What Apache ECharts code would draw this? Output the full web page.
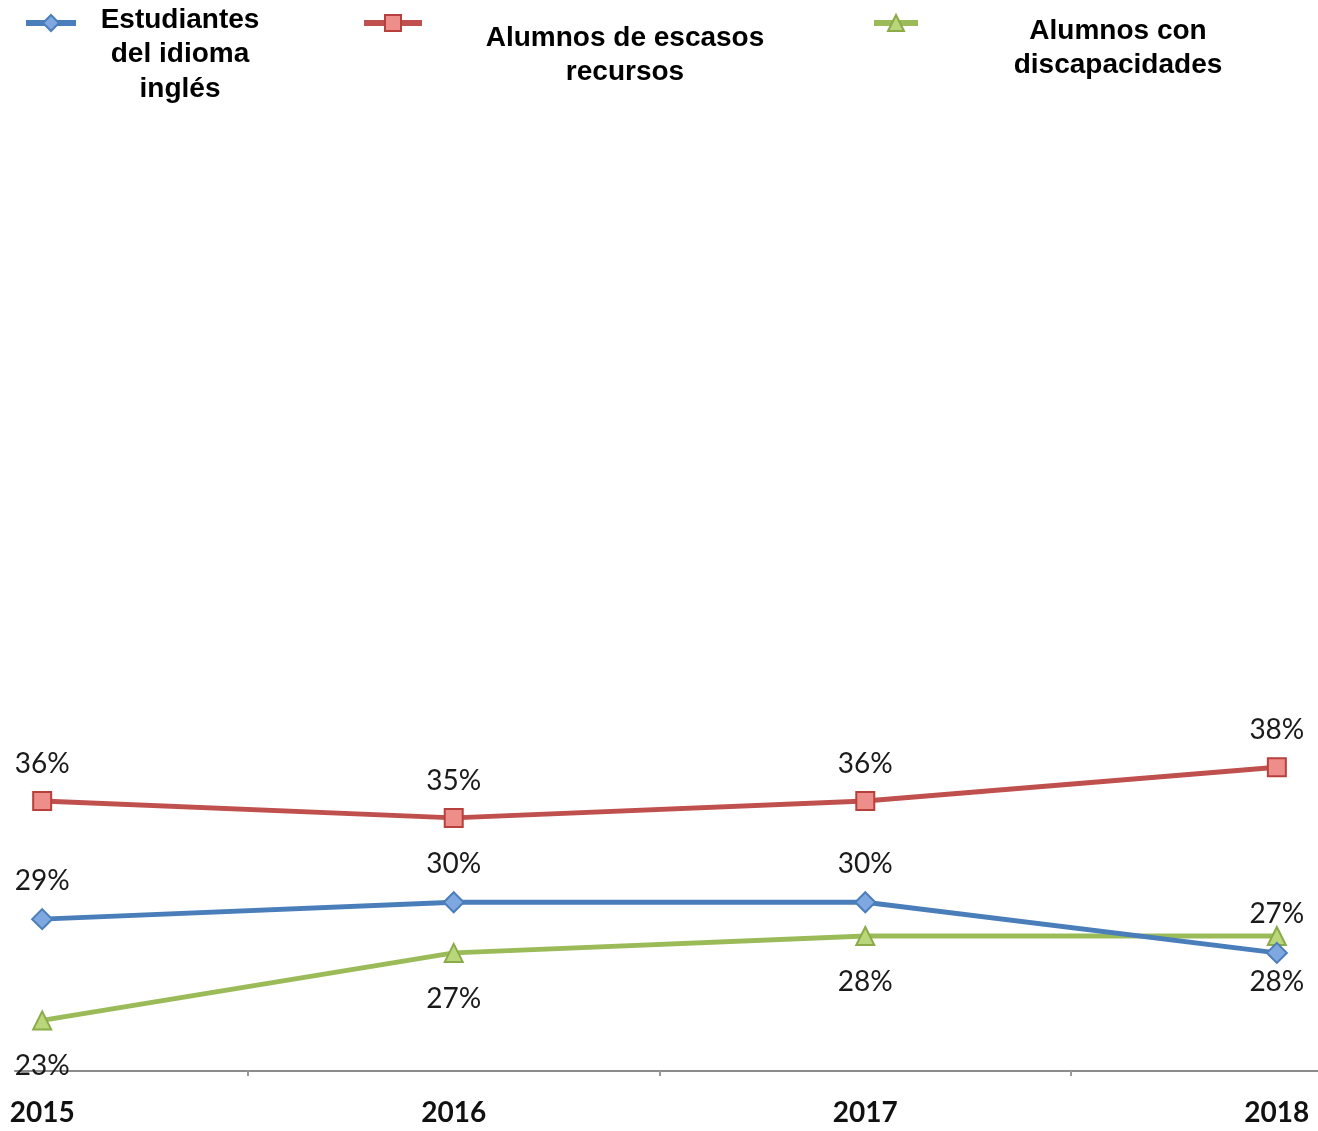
<!DOCTYPE html>
<html>
<head>
<meta charset="utf-8">
<script src="https://cdn.jsdelivr.net/npm/echarts@6/dist/echarts.min.js"></script>
<style>
  html, body { margin: 0; padding: 0; background: #fff; }
  #main { width: 1318px; height: 1131px; }
</style>
</head>
<body>
<div id="main"></div>
<script>
var years = [2015, 2016, 2017, 2018];
var midTicks = [2015.5, 2016.5, 2017.5];

var seriesNames = ['Estudiantes del idioma inglés', 'Alumnos de escasos recursos', 'Alumnos con discapacidades'];

var englishLearners = [29, 30, 30, 27];
var lowIncome = [36, 35, 36, 38];
var disabilities = [23, 27, 28, 28];

// labels as printed in the picture
var englishLabels = ['29%', '30%', '30%', '28%'];
var lowIncomeLabels = ['36%', '35%', '36%', '38%'];
var disabilityLabels = ['23%', '27%', '28%', '27%'];

var englishLabelPos = ['top', 'top', 'top', 'bottom'];
var disabilityLabelPos = ['bottom', 'bottom', 'bottom', 'top'];

var labelFont = 'Lato';

function buildData(values, labels, positions) {
  return values.map(function (v, i) {
    var pos = positions ? positions[i] : 'top';
    var dist = 13;
    if (pos === 'bottom') dist = 22;
    if (i === 3 && positions) dist = pos === 'bottom' ? 4 : -2;
    return {
      value: [years[i], v],
      label: { position: pos, distance: dist, formatter: labels[i] }
    };
  });
}

var chart = echarts.init(document.getElementById('main'));

var baseLabel = {
  show: true,
  fontFamily: labelFont,
  fontSize: 28,
  color: '#1a1a1a'
};

var legendFont = 'bold 28px "Liberation Sans", Arial';
var noText = function () { return ''; };

var option = {
  animation: false,
  backgroundColor: '#fff',
  grid: { left: 15, right: 0, top: 396, bottom: 60 },
  legend: [
    { data: [seriesNames[0]], left: 18, top: 8, itemWidth: 50, itemHeight: 20, formatter: noText, lineStyle: { width: 6 } },
    { data: [seriesNames[1]], left: 356, top: 8, itemWidth: 58, itemHeight: 20, formatter: noText, lineStyle: { width: 6 } },
    { data: [seriesNames[2]], left: 866, top: 8, itemWidth: 44, itemHeight: 20, formatter: noText, lineStyle: { width: 6 } }
  ],
  graphic: [
    { type: 'text', x: 180, y: 3, style: { text: 'Estudiantes\ndel idioma\ninglés', font: legendFont, fill: '#000', align: 'center', verticalAlign: 'top', lineHeight: 34.5 } },
    { type: 'text', x: 625, y: 21, style: { text: 'Alumnos de escasos\nrecursos', font: legendFont, fill: '#000', align: 'center', verticalAlign: 'top', lineHeight: 34.5 } },
    { type: 'text', x: 1118, y: 14, style: { text: 'Alumnos con\ndiscapacidades', font: legendFont, fill: '#000', align: 'center', verticalAlign: 'top', lineHeight: 34.5 } }
  ],
  xAxis: {
    type: 'value',
    min: 2014.934,
    max: 2018.1,
    splitLine: { show: false },
    axisLine: { lineStyle: { color: '#8c8c8c', width: 2 } },
    axisTick: { show: true, customValues: midTicks, length: 5, inside: false, lineStyle: { color: '#9a9a9a', width: 2 } },
    axisLabel: {
      customValues: years,
      formatter: function (v) { return String(v); },
      fontFamily: labelFont,
      fontWeight: 'bold',
      fontSize: 28,
      color: '#111',
      margin: 28
    }
  },
  yAxis: {
    type: 'value',
    min: 20,
    max: 60,
    show: false,
    splitLine: { show: false }
  },
  series: [
    {
      name: seriesNames[0],
      type: 'line',
      data: buildData(englishLearners, englishLabels, englishLabelPos),
      symbol: 'diamond',
      symbolSize: 20,
      lineStyle: { color: '#4a7ebb', width: 5 },
      itemStyle: { color: '#7fa7e0', borderColor: '#4a7ebb', borderWidth: 2 },
      label: baseLabel,
      z: 3
    },
    {
      name: seriesNames[1],
      type: 'line',
      data: buildData(lowIncome, lowIncomeLabels, null),
      symbol: 'rect',
      symbolSize: 18,
      lineStyle: { color: '#c0504d', width: 5 },
      itemStyle: { color: '#ee8e8a', borderColor: '#b8403c', borderWidth: 2 },
      label: baseLabel,
      z: 3
    },
    {
      name: seriesNames[2],
      type: 'line',
      data: buildData(disabilities, disabilityLabels, disabilityLabelPos),
      symbol: 'triangle',
      symbolSize: 18,
      lineStyle: { color: '#9bbb59', width: 5 },
      itemStyle: { color: '#b9d67a', borderColor: '#8aab48', borderWidth: 2 },
      label: baseLabel,
      z: 2
    }
  ]
};

chart.setOption(option);
</script>
</body>
</html>
